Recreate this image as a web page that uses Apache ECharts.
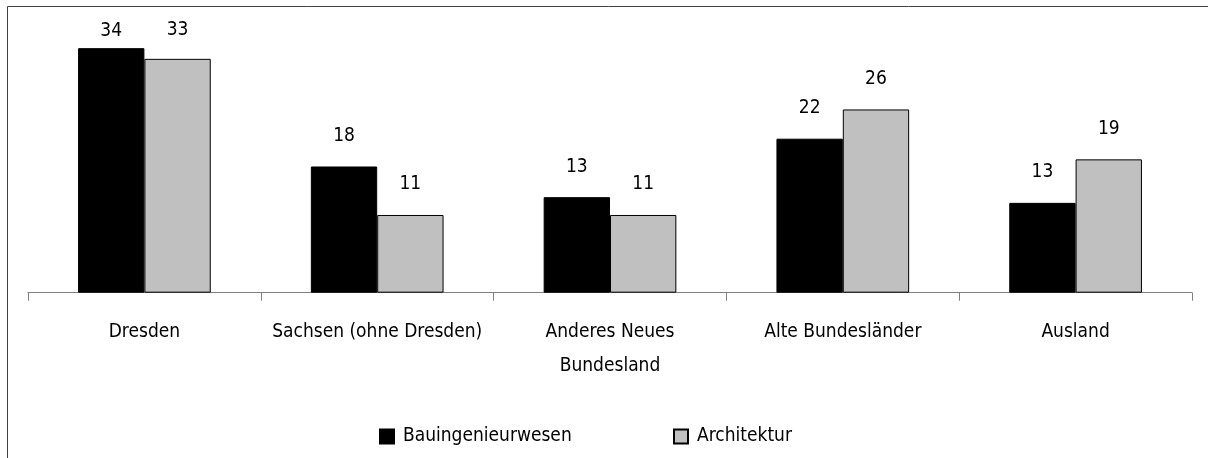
<!DOCTYPE html>
<html>
<head>
<meta charset="utf-8">
<script src="https://cdn.jsdelivr.net/npm/echarts@6/dist/echarts.min.js"></script>
<style>
html,body{margin:0;padding:0;background:#fff;}
#chart{width:1208px;height:458px;}
</style>
</head>
<body>
<div id="chart"></div>
<script>
var categories = ['Dresden', 'Sachsen (ohne Dresden)', 'Anderes Neues\nBundesland', 'Alte Bundesländer', 'Ausland'];
var seriesNames = ['Bauingenieurwesen', 'Architektur'];
var bauingenieurwesen = [34.3, 17.7, 13.4, 21.6, 12.6];
var architektur = [32.8, 10.9, 10.9, 25.7, 18.7];

var FONT = '"Liberation Sans Narrow", "Arial Narrow", "DejaVu Sans Condensed", sans-serif';
var FS = 19;
var colors = ['#000000', '#C0C0C0'];
// label distance overrides for labels pushed down by the plot top
var labelDistanceOverride = [{0: 8}, {0: 19}];

function buildData(values, si) {
  return values.map(function (v, i) {
    var d = labelDistanceOverride[si][i];
    return d === undefined ? v : { value: v, label: { distance: d } };
  });
}

var chart = echarts.init(document.getElementById('chart'), null, { renderer: 'canvas' });
var legendBase = {
  icon: 'rect', itemWidth: 14, itemHeight: 14, itemGap: 9, padding: 0, top: 427,
  textStyle: { color: '#000', fontSize: FS, fontFamily: FONT, padding: [0, 0, 0, 4] }
};
var option = {
  animation: false,
  backgroundColor: '#ffffff',
  textStyle: { fontFamily: FONT },
  grid: { left: 28, right: 16, top: 7.5, bottom: 165.3, containLabel: false },
  xAxis: {
    type: 'category',
    data: categories,
    boundaryGap: true,
    axisLine: { show: true, lineStyle: { color: '#808080', width: 1 } },
    axisTick: { show: true, length: 8, lineStyle: { color: '#808080', width: 1 } },
    axisLabel: { margin: 22, color: '#000', fontSize: FS, fontFamily: FONT, lineHeight: 34, interval: 0 }
  },
  yAxis: {
    type: 'value', min: 0, max: 40, show: false,
    splitLine: { show: false }
  },
  legend: [
    Object.assign({}, legendBase, { data: [seriesNames[0]], left: 379 }),
    Object.assign({}, legendBase, { data: [seriesNames[1]], left: 673 })
  ],
  series: [bauingenieurwesen, architektur].map(function (vals, si) {
    return {
      name: seriesNames[si],
      type: 'bar',
      data: buildData(vals, si),
      barWidth: '28.5%',
      barGap: '0%',
      itemStyle: { color: colors[si], borderColor: '#000', borderWidth: 1 },
      label: {
        show: true, position: 'top', distance: 21, color: '#000', fontSize: FS, fontFamily: FONT,
        formatter: function (p) { return Math.round(p.value); }
      }
    };
  }),
  graphic: [{
    type: 'polyline',
    silent: true,
    shape: { points: [[7.5, 470], [7.5, 6.5], [1220, 6.5]] },
    style: { stroke: '#404040', lineWidth: 1, fill: null }
  }]
};
chart.setOption(option);
</script>
</body>
</html>
